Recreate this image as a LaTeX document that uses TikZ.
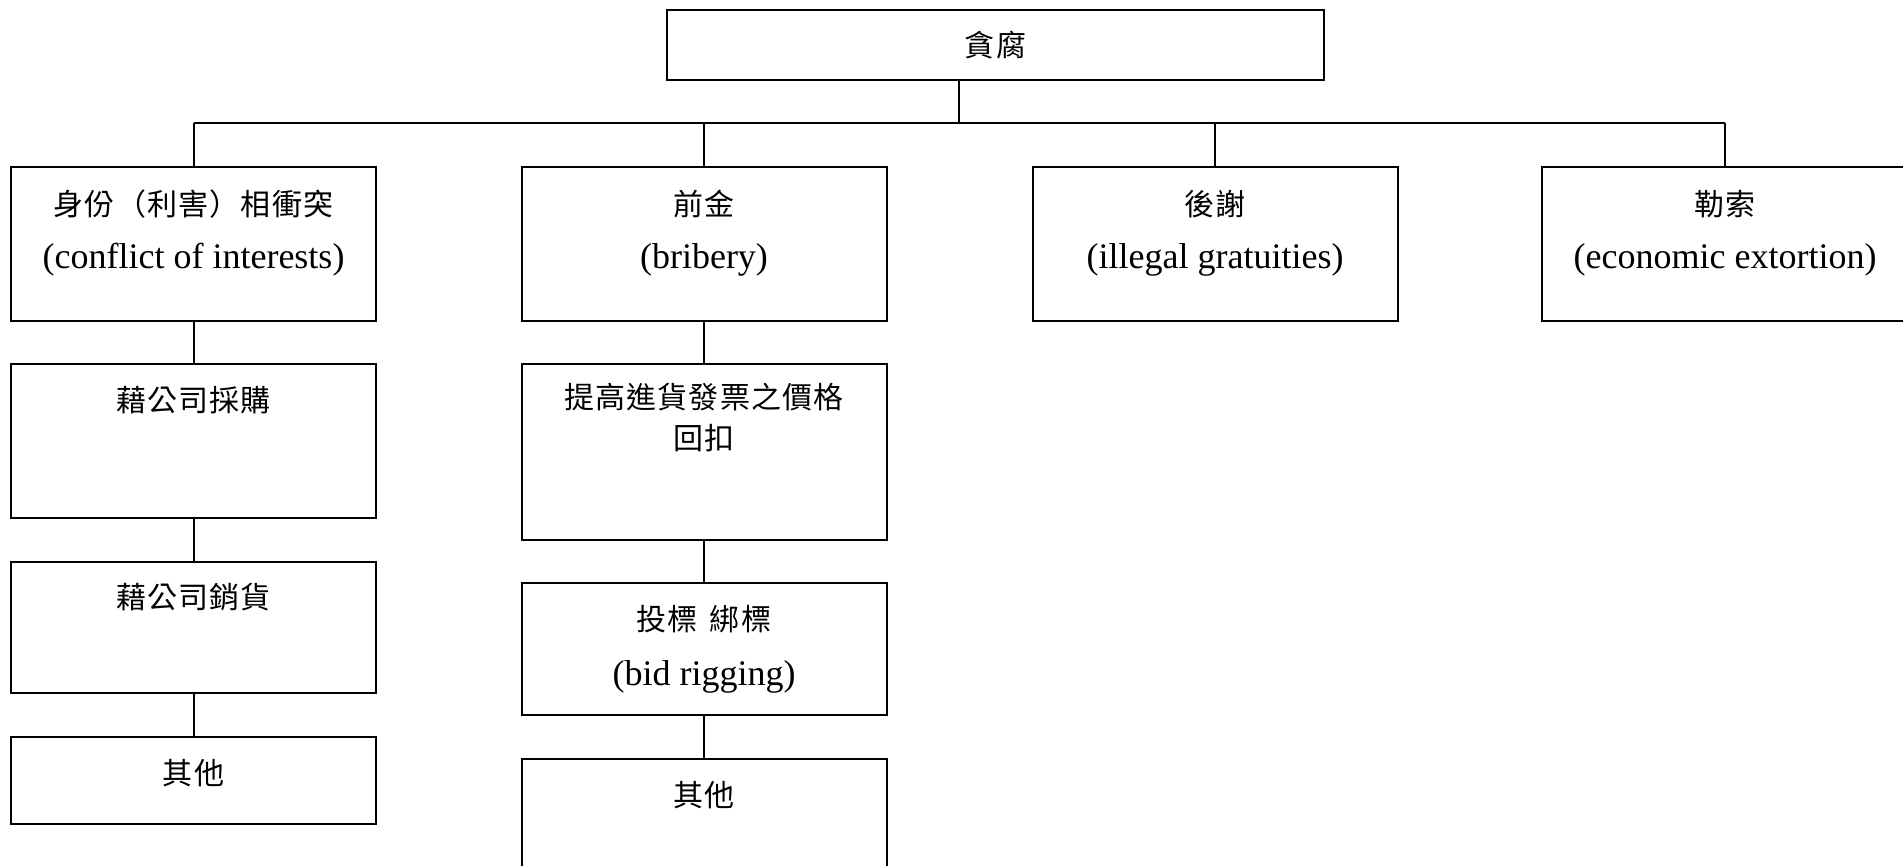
\documentclass[tikz,border=0pt]{standalone}
\usepackage{fontspec}
\setmainfont{Liberation Serif}
\newfontfamily\cjk[LetterSpace=4]{Noto Sans CJK TC}
\begin{document}
\begin{tikzpicture}[x=1pt,y=-1pt,
  box/.style n args={2}{draw, line width=2pt, inner sep=0pt, outer sep=0pt,
                        minimum width=#1pt, minimum height=#2pt},
  zh/.style={font=\cjk\fontsize{30}{30}\selectfont, inner sep=0pt},
  en/.style={font=\fontsize{36}{36}\selectfont, inner sep=0pt},
  link/.style={line width=2pt}]
% page frame
\useasboundingbox (0,0) rectangle (1903,866);
\fill[white] (0,0) rectangle (1903,866);
\clip (0,0) rectangle (1903,866);

% root
\node[box={657}{70}] (root) at (995.5,45) {};
\node[zh] (troot) at (995.5,45) {貪腐};

% first level
\node[box={365}{154}] (a) at (193.5,244) {};
\node[box={365}{154}] (b) at (704,244) {};
\node[box={365}{154}] (c) at (1215,244) {};
\node[box={366}{154}] (d) at (1725,244) {};

\node[zh] (ta1) at (193.5,204) {身份（利害）相衝突};
\node[en] (ta2) at (193.5,260) {(conflict of interests)};
\node[zh] (tb1) at (704,204) {前金};
\node[en] (tb2) at (704,260) {(bribery)};
\node[zh] (tc1) at (1215,204) {後謝};
\node[en] (tc2) at (1215,260) {(illegal gratuities)};
\node[zh] (td1) at (1725,204) {勒索};
\node[en] (td2) at (1725,260) {(economic extortion)};

% column under conflict of interests
\node[box={365}{154}] (a1) at (193.5,441) {};
\node[box={365}{131}] (a2) at (193.5,627.5) {};
\node[box={365}{87}]  (a3) at (193.5,780.5) {};
\node[zh] (ta11) at (193.5,400) {藉公司採購};
\node[zh] (ta21) at (193.5,597) {藉公司銷貨};
\node[zh] (ta31) at (193.5,773) {其他};

% column under bribery
\node[box={365}{176}] (b1) at (704,452) {};
\node[box={365}{132}] (b2) at (704,649) {};
\node[box={365}{150}] (b3) at (704,834) {};
\node[zh] (tb11) at (704,397) {提高進貨發票之價格};
\node[zh] (tb12) at (704,438) {回扣};
\node[zh] (tb21) at (704,619) {投標\hspace{12pt}綁標};
\node[en] (tb22) at (704,677) {(bid rigging)};
\node[zh] (tb31) at (704,795) {其他};

% connectors
\coordinate (bus) at (959,123);
\draw[link] (root.south -| bus) -- (bus);
\draw[link] (a.north |- bus) -- (d.north |- bus);
\foreach \n in {a,b,c,d} \draw[link] (\n.north |- bus) -- (\n.north);
\draw[link] (a.south) -- (a1.north);
\draw[link] (a1.south) -- (a2.north);
\draw[link] (a2.south) -- (a3.north);
\draw[link] (b.south) -- (b1.north);
\draw[link] (b1.south) -- (b2.north);
\draw[link] (b2.south) -- (b3.north);
\end{tikzpicture}
\end{document}
